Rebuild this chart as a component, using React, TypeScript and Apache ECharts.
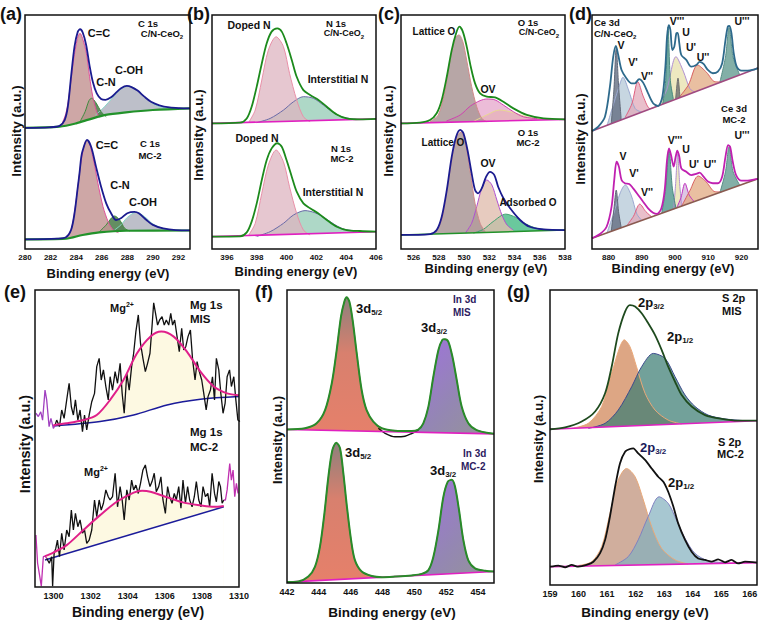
import React, { useEffect, useRef } from 'react';
import * as echarts from 'echarts';

type P = [number, number];

// ---------------- tick labels ----------------
const aTicks = [280, 282, 284, 286, 288, 290, 292];
const bTicks = [396, 398, 400, 402, 404, 406];
const cTicks = [526, 528, 530, 532, 534, 536, 538];
const dTicks = [880, 890, 900, 910, 920];
const eTicks = [1300, 1302, 1304, 1306, 1308, 1310];
const fTicks = [442, 444, 446, 448, 450, 452, 454];
const gTicks = [159, 160, 161, 162, 163, 164, 165, 166];

// ---------------- (a) C 1s ----------------
const aTopEnv: P[] = [[280,51.8],[281.9,52.0],[282.7,52.6],[283.1,55.1],[283.35,60.8],[283.6,73.6],[283.87,86.5],[284.13,92.9],[284.31,93.9],[284.52,92.4],[284.78,87.2],[285.04,78.6],[285.3,71.5],[285.61,66.5],[285.95,64.1],[286.29,63.7],[286.73,64.8],[287.12,66.8],[287.51,68.7],[287.96,69.7],[288.37,69.1],[288.8,67.7],[289.33,65.1],[289.85,62.9],[290.5,61.4],[291.3,60.5],[292.07,60.2],[292.9,60.1]];
const aTopBase: P[] = [[280,51.8],[282.7,52.3],[284,53.7],[285.04,55.4],[286.3,57.3],[287.9,58.4],[290,59.4],[292.9,60.1]];
const aTopCC: P[] = [[282.8,52.4],[283.2,58.0],[283.5,67.9],[283.8,80.8],[284.1,90.0],[284.3,92.2],[284.5,90.0],[284.8,83.6],[285.05,73.6],[285.3,65.1],[285.6,58.7],[285.8,56.3]];
const aTopCN: P[] = [[284.3,54.4],[284.7,58.7],[285.0,63.4],[285.2,64.4],[285.55,62.5],[285.95,58.7],[286.35,56.5]];
const aTopCOH: P[] = [[285.5,57.2],[286.0,59.6],[286.5,62.5],[287.0,65.6],[287.5,68.3],[288.0,69.5],[288.5,68.9],[289.0,66.8],[289.5,64.3],[290.0,62.1],[290.5,60.8],[291.0,60.2],[292.0,60.0]];
const aLowEnv: P[] = [[280,4.1],[282.5,4.4],[283.2,5.0],[283.6,8.1],[283.87,15.2],[284.13,26.6],[284.26,32.3],[284.4,39.4],[284.52,42.3],[284.85,46.6],[285.17,43.7],[285.55,35.2],[285.95,26.6],[286.35,19.5],[286.73,15.3],[287.12,12.4],[287.5,13.1],[288.0,15.3],[288.56,15.9],[288.9,15.3],[289.5,12.4],[290.0,10.3],[290.8,8.8],[291.8,8.1],[292.9,8.0]];
const aLowBase: P[] = [[280,4.1],[283.2,4.4],[284.5,6.0],[285.8,7.1],[287.9,7.8],[292.9,7.9]];
const aLowCC: P[] = [[283.1,4.5],[283.6,8.1],[284.0,20.9],[284.4,38.0],[284.72,45.9],[284.9,46.3],[285.3,39.4],[285.7,28.1],[286.1,18.1],[286.5,11.7],[286.9,8.1],[287.3,7.0]];
const aLowCN: P[] = [[285.8,7.3],[286.35,10.3],[286.73,13.1],[287.0,14.1],[287.4,12.4],[287.8,8.8],[288.2,7.7]];
const aLowCOH: P[] = [[287.0,8.1],[287.5,10.3],[288.0,13.5],[288.7,15.7],[289.35,13.8],[290.0,10.7],[290.8,8.8],[291.5,8.1]];

// ---------------- (b) N 1s ----------------
const bTopEnv: P[] = [[395,53.7],[396.88,54.0],[397.33,55.8],[397.66,60.8],[398.0,69.4],[398.34,79.3],[398.67,87.9],[399.0,92.9],[399.38,94.3],[399.68,92.9],[400.0,87.9],[400.35,80.8],[400.68,73.6],[401.13,67.9],[401.58,65.8],[402.14,63.7],[402.7,60.8],[403.37,57.5],[404.04,55.8],[404.93,55.4],[406,55.6]];
const bTopBase: P[] = [[395,53.7],[406,55.6]];
const bTopDoped: P[] = [[397.45,54.0],[397.9,59.4],[398.34,72.2],[398.78,85.0],[399.3,90.7],[399.79,86.5],[400.2,75.1],[400.68,63.7],[401.13,56.5],[401.58,54.4]];
const bTopInter: P[] = [[398.0,54.0],[398.9,55.8],[399.8,59.4],[400.46,62.9],[401.13,65.1],[401.8,64.4],[402.47,61.5],[403.14,58.3],[403.8,56.3],[404.7,55.4]];
const bLowEnv: P[] = [[395,5.3],[396.88,5.4],[397.33,7.1],[397.66,11.7],[398.0,19.5],[398.34,29.5],[398.67,38.0],[399.0,43.0],[399.38,45.2],[399.68,43.7],[400.0,38.0],[400.35,30.9],[400.68,24.5],[401.13,19.5],[401.58,17.4],[402.14,15.2],[402.7,12.4],[403.37,9.5],[404.04,8.1],[404.93,7.7],[406,7.4]];
const bLowBase: P[] = [[395,5.3],[406,7.4]];
const bLowDoped: P[] = [[397.45,5.8],[397.9,11.0],[398.34,23.8],[398.78,35.9],[399.3,42.3],[399.79,37.3],[400.2,26.6],[400.68,15.2],[401.13,8.1],[401.58,6.0]];
const bLowInter: P[] = [[398.0,5.4],[398.9,7.4],[399.8,11.0],[400.46,14.5],[401.24,16.4],[401.9,15.5],[402.6,13.1],[403.26,10.3],[403.9,8.4],[404.7,7.7]];

// ---------------- (c) O 1s ----------------
const cTopEnv: P[] = [[525,53.7],[526.5,54.0],[527.3,55.1],[527.83,58.0],[528.23,63.7],[528.63,73.6],[529.02,85.0],[529.37,92.2],[529.63,95.0],[529.9,92.9],[530.21,86.5],[530.53,77.9],[530.87,70.8],[531.27,66.5],[531.8,65.1],[532.46,64.8],[533.12,62.9],[533.91,60.1],[534.97,57.3],[536.3,55.8],[538,55.4]];
const cTopBase: P[] = [[525,53.7],[538,55.4]];
const cTopLat: P[] = [[527.3,54.4],[527.96,57.3],[528.5,67.9],[528.9,80.8],[529.3,90.0],[529.6,91.5],[529.9,88.6],[530.2,80.8],[530.6,69.4],[531.0,60.8],[531.4,55.8],[531.8,54.4]];
const cTopOV: P[] = [[528.6,54.7],[529.7,57.3],[530.5,61.1],[531.27,63.4],[531.8,64.1],[532.46,63.7],[533.12,61.5],[533.9,58.7],[534.7,56.5],[535.8,55.7]];
const cTopYel: P[] = [[530.7,54.4],[531.8,57.3],[532.8,59.4],[533.9,58.3],[534.97,56.5],[536.3,55.5]];
const cLowEnv: P[] = [[525,6.0],[527.3,6.4],[527.83,8.1],[528.23,13.8],[528.63,25.2],[529.02,39.4],[529.37,48.0],[529.7,50.9],[529.95,49.4],[530.27,42.3],[530.6,32.3],[530.87,25.2],[531.1,23.8],[531.4,25.9],[531.75,30.9],[532.06,33.0],[532.4,31.6],[532.7,26.6],[533.12,21.7],[533.65,17.4],[534.44,12.4],[535.2,9.5],[536.3,8.4],[538,8.1]];
const cLowBase: P[] = [[525,6.0],[538,8.1]];
const cLowLat: P[] = [[527.7,6.4],[528.23,12.4],[528.63,24.5],[529.02,38.0],[529.4,48.0],[529.75,49.9],[530.1,45.2],[530.5,32.3],[530.87,19.5],[531.27,11.0],[531.67,7.4]];
const cLowOV: P[] = [[530.1,6.8],[530.6,11.0],[531.0,18.1],[531.4,25.9],[531.8,29.5],[532.2,27.4],[532.6,20.9],[533.0,14.5],[533.4,10.3],[533.9,8.1]];
const cLowAds: P[] = [[530.74,6.8],[531.53,8.4],[532.3,11.7],[533.3,14.9],[534.1,13.5],[534.9,10.7],[535.8,8.8],[536.9,8.1]];

// ---------------- (d) Ce 3d ----------------
const dTopEnv: P[] = [[875,50.4],[876.9,52.3],[878.9,56.5],[880.4,69.4],[881.4,82.2],[882.2,86.8],[882.9,82.9],[883.9,76.5],[885.4,72.9],[886.9,70.8],[887.9,70.8],[889.2,72.6],[890.4,71.1],[891.9,66.5],[893.4,62.3],[894.9,61.1],[896.2,65.1],[897.1,77.9],[897.6,90.7],[898.1,95.7],[898.6,93.6],[899.2,85.0],[899.8,86.5],[900.4,92.2],[900.8,92.4],[901.3,87.9],[901.9,82.9],[903.4,80.8],[904.9,77.9],[906.4,78.6],[907.4,80.0],[908.6,79.1],[909.9,76.5],[911.4,75.1],[912.9,75.8],[914.2,79.3],[915.2,89.3],[915.9,95.0],[916.4,95.3],[917.0,92.2],[917.7,83.6],[918.6,77.9],[920.0,76.2],[921.9,76.2],[924,76.8],[925,77.3]];
const dTopBase: P[] = [[875,50.4],[925,77.3]];
const dTopV: P[] = [[880.8,53.5],[881.6,68],[882.3,85.8],[883.0,70],[883.8,55.2]];
const dTopV1: P[] = [[879.5,52.6],[881.5,62],[883.5,71],[884.3,73.4],[886,68],[888,60],[890,58.5]];
const dTopV2: P[] = [[885,56.3],[887,62],[888.8,71.5],[890.5,65],[892.5,60],[894,60.6]];
const dTopV3: P[] = [[896.3,61.9],[897.2,72],[897.9,94.9],[898.6,72],[899.5,64.1]];
const dTopU: P[] = [[895,61.1],[897.5,68],[900.3,82.2],[902.5,76],[904.5,68.5],[906,67.0]];
const dTopUn: P[] = [[900.2,64.0],[900.9,73.0],[901.5,64.6]];
const dTopU2: P[] = [[901,64.4],[904,70],[906.8,78.6],[909.5,75.5],[912,71.5],[914,71.4]];
const dTopU3: P[] = [[913.5,71.2],[915.2,82],[916.3,94.7],[917.5,82],[919.5,74.4]];
const dLowEnv: P[] = [[875,4.6],[877.4,6.4],[879.4,9.5],[880.9,18.1],[881.7,29.5],[882.4,37.3],[883.1,35.2],[883.9,29.5],[884.9,28.1],[886.2,27.8],[887.4,25.9],[888.9,23.1],[890.4,20.2],[891.9,17.4],[893.4,15.5],[894.6,15.0],[895.9,17.4],[896.9,25.2],[897.6,38.0],[898.2,43.0],[898.8,40.2],[899.6,35.2],[900.2,39.4],[900.7,42.0],[901.3,39.4],[901.9,34.5],[903.4,33.0],[904.9,31.6],[906.4,32.1],[907.4,32.6],[908.6,30.9],[909.9,28.8],[911.4,28.1],[912.9,28.1],[914.2,30.9],[915.2,39.4],[916.0,44.4],[916.6,43.7],[917.4,37.3],[918.4,31.6],[920.0,29.2],[921.9,29.2],[924,29.8],[925,30.0]];
const dLowBase: P[] = [[875,4.6],[925,30.0]];
const dLowV: P[] = [[880.8,7.5],[881.6,17],[882.3,25.2],[883.0,16],[883.8,9.1]];
const dLowV1: P[] = [[879.5,6.9],[881.5,15],[883.5,24],[885,27.4],[886.8,23],[888.5,15],[890,12.2]];
const dLowV2: P[] = [[885.5,10],[887.5,14],[889.4,19.2],[891.2,16],[893,13.7]];
const dLowV3: P[] = [[896,15.3],[897.2,26],[898.2,42.7],[899.2,26],[900.3,17.4]];
const dLowU: P[] = [[899.6,17.0],[900.2,28],[900.8,40.5],[901.4,28],[902.0,18.3]];
const dLowU1: P[] = [[900.5,17.5],[901.8,22],[903,28.1],[904.3,23],[905.8,20.2]];
const dLowU2: P[] = [[902,18.3],[904.5,25],[907,31.2],[909.5,28.5],[912,24.5],[914,24.4]];
const dLowU3: P[] = [[913.5,23.9],[915.2,33],[916.3,43.7],[917.5,33],[919.5,27.3]];

// ---------------- (e) Mg 1s ----------------
const eTopEdge: P[] = [[1299.05,58.5],[1299.18,57.4],[1299.31,59.0],[1299.41,56.2],[1299.54,66.3],[1299.63,63.0],[1299.76,54.0],[1299.86,56.8],[1299.99,53.4],[1300.08,54.5]];
const eTopData: P[] = [[1300.08,54.5],[1300.17,56.2],[1300.32,54.0],[1300.44,59.6],[1300.57,56.8],[1300.71,63.0],[1300.84,68.6],[1300.96,60.7],[1301.07,57.9],[1301.18,63.0],[1301.31,56.2],[1301.43,59.6],[1301.56,52.3],[1301.67,57.9],[1301.79,52.9],[1301.92,57.9],[1302.06,62.4],[1302.21,65.2],[1302.33,74.2],[1302.46,77.0],[1302.57,69.7],[1302.69,73.1],[1302.82,67.5],[1302.95,63.0],[1303.05,70.8],[1303.18,66.3],[1303.32,72.5],[1303.45,68.6],[1303.59,75.3],[1303.7,65.2],[1303.81,58.5],[1303.95,71.9],[1304.08,66.3],[1304.21,74.2],[1304.32,78.7],[1304.44,86.0],[1304.57,91.6],[1304.69,82.0],[1304.82,77.0],[1304.95,72.5],[1305.07,75.3],[1305.2,78.7],[1305.31,87.7],[1305.4,95.7],[1305.5,92.1],[1305.61,88.2],[1305.72,89.9],[1305.85,91.0],[1305.97,88.2],[1306.08,89.9],[1306.21,88.2],[1306.32,92.1],[1306.42,88.2],[1306.53,89.9],[1306.66,84.3],[1306.78,79.2],[1306.91,87.1],[1307.02,79.8],[1307.13,80.9],[1307.25,84.3],[1307.38,86.5],[1307.5,76.4],[1307.63,69.7],[1307.74,75.9],[1307.86,72.5],[1307.99,69.7],[1308.1,65.2],[1308.23,59.6],[1308.33,64.1],[1308.46,66.3],[1308.57,70.8],[1308.68,63.0],[1308.78,77.0],[1308.91,73.1],[1309.02,65.2],[1309.14,58.5],[1309.25,61.8],[1309.36,70.8],[1309.49,73.1],[1309.59,67.5],[1309.72,70.8],[1309.83,63.0],[1309.94,56.2],[1310.05,55.7]];
const eTopFit: P[] = [[1299.99,54.5],[1300.71,55.1],[1301.61,56.2],[1302.33,57.9],[1303.05,63.0],[1303.77,69.7],[1304.5,78.7],[1305.22,84.3],[1305.81,86.0],[1306.48,84.3],[1307.2,79.2],[1307.92,72.5],[1308.64,67.5],[1309.36,65.2],[1310,64.6]];
const eTopBase: P[] = [[1299.99,54.2],[1302.51,55.7],[1304.32,57.9],[1306.12,61.3],[1307.92,63.2],[1310,64.1]];
const eLowEdgeL: P[] = [[1299.05,17.5],[1299.14,8.0],[1299.23,4.6],[1299.34,0.3],[1299.45,10.2],[1299.54,10.4],[1299.63,9.7]];
const eLowData: P[] = [[1299.63,9.7],[1299.77,8.0],[1299.9,10.2],[1299.95,0.3],[1300.03,11.3],[1300.12,13.0],[1300.21,15.8],[1300.32,10.2],[1300.44,18.1],[1300.57,12.5],[1300.71,19.2],[1300.84,16.9],[1300.96,25.9],[1301.07,19.2],[1301.18,24.8],[1301.31,20.3],[1301.43,22.6],[1301.56,18.1],[1301.67,19.2],[1301.79,14.7],[1301.92,15.8],[1302.06,19.2],[1302.21,29.3],[1302.33,23.7],[1302.46,29.3],[1302.57,25.9],[1302.69,28.2],[1302.82,32.7],[1302.95,30.4],[1303.05,29.3],[1303.18,30.4],[1303.32,38.3],[1303.45,27.0],[1303.59,33.8],[1303.7,29.3],[1303.81,22.6],[1303.95,32.7],[1304.08,29.3],[1304.21,36.0],[1304.32,32.7],[1304.44,34.3],[1304.57,31.5],[1304.69,34.9],[1304.82,39.4],[1304.95,41.1],[1305.07,37.1],[1305.2,33.8],[1305.31,35.5],[1305.43,38.3],[1305.54,32.1],[1305.67,33.8],[1305.79,37.1],[1305.9,29.3],[1306.03,24.8],[1306.15,33.8],[1306.26,30.4],[1306.39,28.2],[1306.51,31.5],[1306.62,29.3],[1306.75,33.8],[1306.87,26.5],[1306.98,36.0],[1307.11,28.2],[1307.23,33.8],[1307.34,29.3],[1307.47,27.0],[1307.59,30.4],[1307.7,35.5],[1307.83,29.3],[1307.95,27.0],[1308.06,33.8],[1308.19,30.4],[1308.32,31.5],[1308.42,27.0],[1308.55,38.3],[1308.68,31.5],[1308.78,28.7],[1308.91,35.5],[1309.0,33.8],[1309.09,28.2],[1309.18,29.3]];
const eLowEdgeR: P[] = [[1309.18,29.3],[1309.27,29.3],[1309.36,32.7],[1309.5,41.6],[1309.59,36.0],[1309.68,39.4],[1309.77,30.4],[1309.86,34.9],[1309.95,31.5]];
const eLowFit: P[] = [[1299.54,10.4],[1299.99,11.6],[1300.71,14.1],[1301.61,19.2],[1302.51,24.2],[1303.41,28.7],[1304.32,31.8],[1304.77,32.4],[1305.22,32.1],[1306.12,30.2],[1307.02,28.4],[1307.92,27.5],[1308.64,27.0],[1309.18,27.3]];
const eLowBase: P[] = [[1299.54,9.1],[1309.18,27.0]];

// ---------------- (f) In 3d ----------------
const fTopEnv: P[] = [[442,52.4],[443.13,52.8],[443.86,54.5],[444.39,59.0],[444.81,68.1],[445.12,79.5],[445.39,90.9],[445.6,96.0],[445.75,97.5],[445.92,96.0],[446.12,89.8],[446.38,78.4],[446.69,65.8],[447.0,59.0],[447.42,55.1],[447.95,52.8],[448.78,52.0],[449.83,51.9],[450.25,52.4],[450.56,54.5],[450.88,60.2],[451.19,70.4],[451.51,79.5],[451.76,83.0],[451.92,83.2],[452.13,82.4],[452.39,77.2],[452.66,69.3],[452.97,60.2],[453.39,54.5],[453.91,52.2],[455,50.9]];
const fTopBase: P[] = [[442,52.4],[455,50.9]];
const fTopData: P[] = [[447.74,52.8],[448.16,51.1],[448.78,49.9],[449.41,50.1],[449.83,51.0],[450.25,52.2]];
const fLowEnv: P[] = [[442,0.3],[442.71,0.5],[443.34,2.2],[443.76,5.6],[444.07,12.4],[444.35,23.8],[444.6,36.3],[444.85,45.4],[445.1,47.9],[445.33,46.0],[445.54,37.4],[445.75,26.7],[446.02,14.8],[446.27,7.7],[446.69,3.9],[447.32,2.4],[447.95,2.0],[448.78,2.2],[449.83,2.6],[450.46,3.1],[450.88,4.4],[451.19,8.9],[451.51,18.0],[451.82,29.4],[452.1,34.6],[452.35,35.2],[452.55,32.9],[452.8,25.0],[453.07,14.8],[453.39,7.7],[453.81,5.0],[454.44,4.2],[455,3.9]];
const fLowBase: P[] = [[442,0.3],[455,3.9]];

// ---------------- (g) S 2p ----------------
const gTopEnv: P[] = [[159,52.8],[159.53,53.4],[160.11,55.4],[160.58,58.8],[160.93,65.0],[161.16,74.0],[161.39,85.3],[161.63,92.7],[161.8,94.9],[161.98,94.4],[162.21,92.1],[162.44,88.7],[162.68,84.7],[162.91,79.7],[163.14,74.0],[163.38,68.9],[163.61,64.4],[163.96,60.5],[164.43,57.6],[165.01,56.3],[165.59,55.7],[166.25,55.7]];
const gTopBase: P[] = [[159,52.8],[166.25,55.7]];
const gTop32: P[] = [[159.76,53.1],[160.34,54.8],[160.81,60.5],[161.16,71.8],[161.45,80.8],[161.6,83.1],[161.8,80.8],[162.03,74.0],[162.33,65.0],[162.68,59.3],[163.14,55.9],[163.61,54.6]];
const gTop12: P[] = [[160.34,53.1],[160.93,54.8],[161.39,59.3],[161.86,67.2],[162.21,74.0],[162.62,78.5],[163.03,76.8],[163.38,70.6],[163.73,64.4],[164.08,60.5],[164.54,57.6],[165.13,56.3],[165.83,55.7]];
const gLowEnv: P[] = [[159,6.2],[159.29,6.6],[159.53,6.0],[159.76,6.8],[159.99,6.2],[160.28,6.8],[160.52,7.9],[160.75,10.7],[160.93,15.3],[161.1,23.2],[161.28,33.3],[161.45,41.2],[161.63,45.2],[161.8,46.1],[161.92,46.3],[162.09,44.6],[162.33,42.4],[162.56,39.5],[162.79,36.7],[162.97,35.0],[163.14,31.6],[163.32,26.6],[163.49,20.9],[163.73,15.3],[163.96,11.3],[164.19,9.0],[164.43,8.5],[164.66,7.9],[164.89,8.7],[165.13,7.7],[165.36,8.5],[165.59,7.3],[165.83,7.9],[166.25,7.6]];
const gLowBase: P[] = [[159,6.2],[166.25,7.6]];
const gLow32: P[] = [[159.99,6.6],[160.46,7.9],[160.81,13.0],[161.1,24.3],[161.39,35.6],[161.68,39.5],[161.98,36.7],[162.27,28.8],[162.56,19.8],[162.91,12.4],[163.38,8.5],[163.84,7.1]];
const gLow12: P[] = [[161.28,6.8],[161.74,9.6],[162.09,15.3],[162.44,23.2],[162.82,29.9],[163.14,27.7],[163.43,22.0],[163.73,15.8],[164.08,10.7],[164.54,8.2],[165.13,7.6]];

const FONT = '"Liberation Sans", Arial, Helvetica, sans-serif';

const layout = [
  { l: 25, t: 15, w: 165, h: 234, min: 280, max: 292.9, ticks: aTicks, fs: 8 },
  { l: 212, t: 15, w: 164, h: 234, min: 395, max: 406, ticks: bTicks, fs: 8 },
  { l: 401, t: 15, w: 164, h: 234, min: 525, max: 538, ticks: cTicks, fs: 8 },
  { l: 592, t: 15, w: 166, h: 234, min: 875, max: 925, ticks: dTicks, fs: 8 },
  { l: 35, t: 290, w: 204, h: 297, min: 1299, max: 1310, ticks: eTicks, fs: 9 },
  { l: 287, t: 290, w: 207, h: 293, min: 442, max: 455, ticks: fTicks, fs: 9 },
  { l: 550, t: 290, w: 207, h: 295, min: 159, max: 166.25, ticks: gTicks, fs: 9 },
];

function buildOption() {
  const series: any[] = [];
  const SM = 0.3;
  const area = (g: number, data: P[], fill: any, edge: string, origin: number, ew = 1, smooth: any = SM) =>
    series.push({ type: 'line', xAxisIndex: g, yAxisIndex: g, data, symbol: 'none', smooth, silent: true,
      lineStyle: { color: edge, width: ew }, areaStyle: { color: fill, opacity: 1, origin } });
  // white mask: hides the part of the component fills lying under the background line
  const mask = (g: number, data: P[], origin: number, smooth: any = SM) =>
    series.push({ type: 'line', xAxisIndex: g, yAxisIndex: g, data, symbol: 'none', smooth, silent: true,
      lineStyle: { width: 0, opacity: 0 }, areaStyle: { color: '#ffffff', opacity: 1, origin: origin > 0 ? origin - 0.6 : origin } });
  const line = (g: number, data: P[], color: string, width: number, smooth: any = SM) =>
    series.push({ type: 'line', xAxisIndex: g, yAxisIndex: g, data, symbol: 'none', smooth, silent: true,
      lineStyle: { color, width } });

  // (a)
  area(0, aTopCOH, 'rgba(178,180,192,0.85)', '#86d8c8', 51);
  area(0, aTopCN, 'rgba(72,122,70,0.85)', '#3e8a3e', 51);
  area(0, aTopCC, 'rgba(198,152,150,0.85)', '#e0509a', 51);
  mask(0, aTopBase, 51);
  line(0, aTopBase, '#22922a', 2.2);
  line(0, aTopEnv, '#1b1b8f', 1.8);
  area(0, aLowCOH, 'rgba(178,180,192,0.85)', '#86d8c8', 0);
  area(0, aLowCN, 'rgba(72,122,70,0.85)', '#3e8a3e', 0);
  area(0, aLowCC, 'rgba(198,152,150,0.85)', '#e0509a', 0);
  mask(0, aLowBase, 0);
  line(0, aLowBase, '#22922a', 2.2);
  line(0, aLowEnv, '#1b1b8f', 1.8);

  // (b)
  area(1, bTopInter, 'rgba(140,200,175,0.7)', '#6a6aa8', 52);
  area(1, bTopDoped, 'rgba(222,180,192,0.75)', '#e890a8', 52);
  mask(1, bTopBase, 52);
  line(1, bTopBase, '#e020c0', 1.6);
  line(1, bTopEnv, '#1c8a1c', 1.8);
  area(1, bLowInter, 'rgba(140,200,175,0.7)', '#6a6aa8', 0);
  area(1, bLowDoped, 'rgba(222,180,192,0.75)', '#e890a8', 0);
  mask(1, bLowBase, 0);
  line(1, bLowBase, '#e020c0', 1.6);
  line(1, bLowEnv, '#1c8a1c', 1.8);

  // (c)
  area(2, cTopYel, 'rgba(232,222,160,0.8)', '#e8d890', 52.5);
  area(2, cTopOV, 'rgba(228,160,200,0.7)', '#d040b0', 52.5);
  area(2, cTopLat, 'rgba(170,150,150,0.85)', '#d08a8a', 52.5);
  mask(2, cTopBase, 52.5);
  line(2, cTopBase, '#e020c0', 1.6);
  line(2, cTopEnv, '#1c8a1c', 1.8);
  area(2, cLowAds, 'rgba(80,190,140,0.85)', '#40a070', 0);
  area(2, cLowOV, 'rgba(225,190,175,0.8)', '#b050d0', 0);
  area(2, cLowLat, 'rgba(170,150,150,0.85)', '#d08a8a', 0);
  mask(2, cLowBase, 0);
  line(2, cLowBase, '#22922a', 1.6);
  line(2, cLowEnv, '#1b1b8f', 1.8);

  // (d)
  const dComps = (v: P[], v1: P[], v2: P[], v3: P[], u: P[], un: P[] | null, u1: P[] | null, u2: P[], u3: P[], o: number) => {
    area(3, v1, 'rgba(180,200,215,0.75)', '#9aa8d0', o);
    area(3, v2, 'rgba(225,170,185,0.75)', '#e06080', o);
    area(3, u, 'rgba(232,226,176,0.8)', '#b090d0', o);
    if (u1) area(3, u1, 'rgba(200,160,210,0.6)', '#c030c0', o);
    area(3, u2, 'rgba(225,170,130,0.75)', '#d86060', o);
    area(3, v, 'rgba(100,110,130,0.8)', '#606878', o);
    area(3, v3, 'rgba(80,150,140,0.8)', '#4a8a80', o);
    if (un) area(3, un, 'rgba(110,110,110,0.8)', '#707070', o);
    area(3, u3, 'rgba(100,155,145,0.8)', '#5a9088', o);
  };
  dComps(dTopV, dTopV1, dTopV2, dTopV3, dTopU, dTopUn, null, dTopU2, dTopU3, 50);
  mask(3, dTopBase, 50);
  line(3, dTopBase, '#a04a80', 1.6);
  line(3, dTopEnv, '#2e6a8c', 1.8);
  dComps(dLowV, dLowV1, dLowV2, dLowV3, dLowU, null, dLowU1, dLowU2, dLowU3, 0);
  mask(3, dLowBase, 0);
  line(3, dLowBase, '#8a5a50', 1.6);
  line(3, dLowEnv, '#c020b0', 1.8);

  // (e)
  area(4, eTopFit, '#fdf9e2', 'rgba(0,0,0,0)', 53, 0);
  mask(4, eTopBase, 53);
  line(4, eTopBase, '#1b1b9a', 1.5);
  line(4, eTopData, '#111111', 1.3, false);
  line(4, eTopEdge, '#a040c0', 1.3, false);
  line(4, eTopFit, '#e0208a', 2);
  area(4, eLowFit, '#fdf9e2', 'rgba(0,0,0,0)', 0, 0);
  mask(4, eLowBase, 0);
  line(4, eLowBase, '#1b1b9a', 1.5);
  line(4, eLowData, '#111111', 1.3, false);
  line(4, eLowEdgeL, '#c030b0', 1.3, false);
  line(4, eLowEdgeR, '#c030b0', 1.3, false);
  line(4, eLowFit, '#e0208a', 2);

  // (f)
  const g52 = () => new echarts.graphic.LinearGradient(0, 0, 0, 1, [
    { offset: 0, color: '#8e807c' }, { offset: 0.4, color: '#d8806e' }, { offset: 1, color: '#e6806a' }]);
  const g32 = () => new echarts.graphic.LinearGradient(0, 0, 1, 1, [
    { offset: 0, color: '#a070e0' }, { offset: 0.55, color: '#9486b4' }, { offset: 1, color: '#959595' }]);
  area(5, fTopEnv.filter((p) => p[0] <= 448.5), g52(), '#2a8a2a', 50, 1);
  area(5, fTopEnv.filter((p) => p[0] >= 449.8), g32(), '#2a8a2a', 50, 1);
  mask(5, fTopBase, 50);
  line(5, fTopData, '#111111', 1.4);
  line(5, fTopBase, '#e020c0', 1.6);
  line(5, fTopEnv, '#2a8a2a', 2);
  area(5, fLowEnv.filter((p) => p[0] <= 448.5), g52(), '#2a8a2a', 0, 1);
  area(5, fLowEnv.filter((p) => p[0] >= 449.8), g32(), '#2a8a2a', 0, 1);
  mask(5, fLowBase, 0);
  line(5, fLowBase, '#e020c0', 1.6);
  line(5, fLowEnv, '#2a8a2a', 2);

  // (g)
  area(6, gTop32, 'rgba(215,150,110,0.85)', '#eaa878', 51);
  area(6, gTop12, 'rgba(60,125,115,0.72)', '#3c4a8c', 51);
  mask(6, gTopBase, 51);
  line(6, gTopBase, '#e020c0', 1.6);
  line(6, gTopEnv, '#1e4a1e', 1.8);
  area(6, gLow32, 'rgba(200,160,140,0.85)', '#e8a878', 0);
  area(6, gLow12, 'rgba(130,175,190,0.7)', '#8080c0', 0);
  mask(6, gLowBase, 0);
  line(6, gLowBase, '#e020c0', 1.6);
  line(6, gLowEnv, '#111111', 1.8, 0.2);

  const grid = layout.map((p) => ({ left: p.l, top: p.t, width: p.w, height: p.h, outerBoundsMode: 'none' }));
  const xAxis = layout.map((p, i) => ({
    type: 'value', gridIndex: i, min: p.min, max: p.max,
    axisLine: { show: false }, axisTick: { show: false }, splitLine: { show: false },
    axisLabel: {
      customValues: p.ticks, fontSize: p.fs, fontWeight: 'bold', color: '#111', fontFamily: FONT, margin: 4,
      formatter: (v: number) => String(v),
    },
  }));
  const yAxis = layout.map((_, i) => ({ type: 'value', gridIndex: i, min: 0, max: 100, show: false }));

  // ---------- graphic texts ----------
  const T = (x: number, y: number, text: string, size = 10, align = 'center', color = '#111', rot = 0) => ({
    type: 'text', x, y, rotation: rot, z: 110, silent: true,
    style: { text, fontSize: size, fontWeight: 'bold', fontFamily: FONT, fill: color, align, verticalAlign: 'middle' },
  });
  const R = (x: number, y: number, main: string, sub: string, size: number, kind: 'sub' | 'sup', align = 'left', color = '#111') => {
    const ss = Math.round(size * 0.64);
    return {
      type: 'text', x, y, z: 110, silent: true,
      style: {
        text: `{m|${main}}{s|${sub}}`, align, verticalAlign: 'middle',
        rich: {
          m: { fontSize: size, fontWeight: 'bold', fontFamily: FONT, fill: color, lineHeight: size + 4 },
          s: { fontSize: ss, fontWeight: 'bold', fontFamily: FONT, fill: color, lineHeight: ss, verticalAlign: kind === 'sub' ? 'bottom' : 'top' },
        },
      },
    };
  };

  const frames = layout.map((p) => ({
    type: 'rect', z: 100, silent: true, shape: { x: p.l, y: p.t, width: p.w, height: p.h },
    style: { fill: 'none', stroke: '#111', lineWidth: 1.5 },
  }));

  const texts: any[] = [
    T(0, 14, '(a)', 18, 'left'), T(187, 14, '(b)', 18, 'left'), T(378, 14, '(c)', 18, 'left'), T(569, 14, '(d)', 18, 'left'),
    T(4, 292, '(e)', 18, 'left'), T(255, 292, '(f)', 18, 'left'), T(507, 292, '(g)', 18, 'left'),
    T(108, 273, 'Binding energy (eV)', 13), T(296, 271, 'Binding energy (eV)', 13),
    T(486, 268, 'Binding energy (eV)', 13), T(673, 268, 'Binding energy (eV)', 13),
    T(138, 612, 'Binding energy (eV)', 14), T(392, 612, 'Binding energy (eV)', 13.5), T(645, 612, 'Binding energy (eV)', 13.5),
    T(16, 131, 'Intensity (a.u.)', 13.5, 'center', '#111', Math.PI / 2),
    T(198, 135, 'Intensity (a.u.)', 13.5, 'center', '#111', Math.PI / 2),
    T(388, 131, 'Intensity (a.u.)', 13.5, 'center', '#111', Math.PI / 2),
    T(580, 139, 'Intensity (a.u.)', 13.5, 'center', '#111', Math.PI / 2),
    T(25, 444, 'Intensity (a.u.)', 14.5, 'center', '#111', Math.PI / 2),
    T(277, 440, 'Intensity (a.u.)', 13, 'center', '#111', Math.PI / 2),
    T(538, 439, 'Intensity (a.u.)', 13, 'center', '#111', Math.PI / 2),
    // (a)
    T(99, 33, 'C=C', 11), T(106, 82, 'C-N', 11), T(129, 70, 'C-OH', 11),
    T(148, 23, 'C 1s', 9.5), R(162, 33, 'C/N-CeO', '2', 9.5, 'sub', 'center'),
    T(150, 143, 'C 1s', 9.5), T(150, 155, 'MC-2', 9.5),
    T(107, 145, 'C=C', 11), T(120, 185, 'C-N', 11), T(143, 202, 'C-OH', 11),
    // (b)
    T(249, 25, 'Doped N', 10.5), T(336, 23, 'N 1s', 9.5), R(344, 33, 'C/N-CeO', '2', 9, 'sub', 'center'),
    T(338, 79, 'Interstitial N', 10.5),
    T(341, 148, 'N 1s', 9.5), T(342, 158, 'MC-2', 9.5), T(257, 138, 'Doped N', 10.5), T(333, 192, 'Interstitial N', 10.5),
    // (c)
    T(434, 31, 'Lattice O', 10), T(528, 22, 'O 1s', 9.5), R(539, 32, 'C/N-CeO', '2', 9, 'sub', 'center'),
    T(488, 89, 'OV', 10.5),
    T(528, 132, 'O 1s', 9.5), T(528, 142, 'MC-2', 9.5), T(443, 142, 'Lattice O', 10),
    T(488, 163, 'OV', 10.5), T(528, 202, 'Adsorbed O', 10),
    // (d)
    T(594, 22, 'Ce 3d', 9.5, 'left'), R(594, 33, 'C/N-CeO', '2', 9.5, 'sub', 'left'),
    T(621, 45, 'V', 10.5), T(633, 62, "V'", 10.5), T(647, 76, "V''", 10.5), T(677, 21, "V'''", 10.5),
    T(686, 32, 'U', 10.5), T(691, 47, "U'", 10.5), T(703, 57, "U''", 10.5), T(742, 21, "U'''", 10.5),
    T(734, 108, 'Ce 3d', 9.5), T(734, 119, 'MC-2', 9.5),
    T(623, 156, 'V', 10.5), T(634, 173, "V'", 10.5), T(647, 192, "V''", 10.5), T(675, 140, "V'''", 10.5),
    T(686, 149, 'U', 10.5), T(694, 164, "U'", 10.5), T(710, 164, "U''", 10.5), T(742, 135, "U'''", 10.5),
    // (e)
    R(110, 308, 'Mg', '2+', 11, 'sup', 'left'), T(190, 305, 'Mg 1s', 11.5, 'left'), T(190, 319, 'MIS', 11.5, 'left'),
    T(190, 432, 'Mg 1s', 11.5, 'left'), T(190, 447, 'MC-2', 11.5, 'left'), R(84, 472, 'Mg', '2+', 11, 'sup', 'left'),
    // (f)
    R(356, 308, '3d', '5/2', 13, 'sub', 'left'), T(453, 299, 'In 3d', 10, 'left', '#2c2060'), T(453, 312, 'MIS', 10, 'left', '#2c2060'),
    R(421, 327, '3d', '3/2', 13, 'sub', 'left'),
    R(345, 452, '3d', '5/2', 13, 'sub', 'left'), T(463, 453, 'In 3d', 10, 'left', '#2c2060'), T(461, 466, 'MC-2', 10, 'left', '#2c2060'),
    R(430, 470, '3d', '3/2', 13, 'sub', 'left'),
    // (g)
    R(638, 302, '2p', '3/2', 13, 'sub', 'left'), T(722, 298, 'S 2p', 11, 'left'), T(722, 311, 'MIS', 11, 'left'),
    R(667, 336, '2p', '1/2', 13, 'sub', 'left'),
    R(640, 447, '2p', '3/2', 13, 'sub', 'left', '#1a1a5a'), T(718, 442, 'S 2p', 11, 'left'), T(717, 454, 'MC-2', 11, 'left'),
    R(668, 482, '2p', '1/2', 13, 'sub', 'left'),
  ];

  return {
    animation: false,
    backgroundColor: '#ffffff',
    grid, xAxis, yAxis, series,
    graphic: [...frames, ...texts],
  };
}

export default function App() {
  const ref = useRef<HTMLDivElement>(null);
  useEffect(() => {
    if (!ref.current) return;
    const chart = echarts.init(ref.current, undefined, { renderer: 'svg' });
    chart.setOption(buildOption() as any);
    return () => chart.dispose();
  }, []);
  return (
    <div
      ref={ref}
      style={{ position: 'fixed', left: 0, top: 0, width: 760, height: 621, background: '#fff' }}
    />
  );
}
